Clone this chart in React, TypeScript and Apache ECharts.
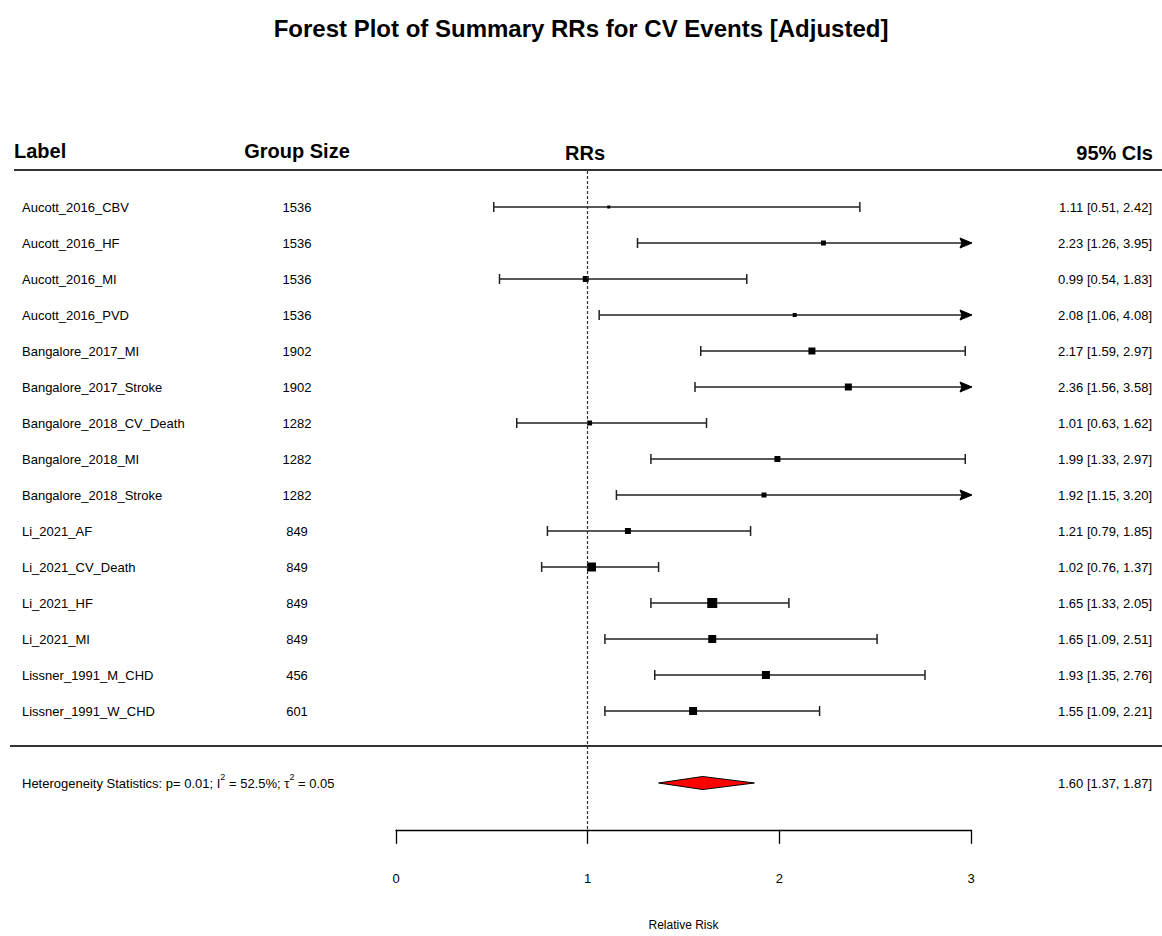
import React, { useEffect, useRef } from "react";
import * as echarts from "echarts";

const studyLabels = [
  "Aucott_2016_CBV",
  "Aucott_2016_HF",
  "Aucott_2016_MI",
  "Aucott_2016_PVD",
  "Bangalore_2017_MI",
  "Bangalore_2017_Stroke",
  "Bangalore_2018_CV_Death",
  "Bangalore_2018_MI",
  "Bangalore_2018_Stroke",
  "Li_2021_AF",
  "Li_2021_CV_Death",
  "Li_2021_HF",
  "Li_2021_MI",
  "Lissner_1991_M_CHD",
  "Lissner_1991_W_CHD",
];
const groupSizes = [1536, 1536, 1536, 1536, 1902, 1902, 1282, 1282, 1282, 849, 849, 849, 849, 456, 601];
const rrEstimates = [1.11, 2.23, 0.99, 2.08, 2.17, 2.36, 1.01, 1.99, 1.92, 1.21, 1.02, 1.65, 1.65, 1.93, 1.55];
const rrLower = [0.51, 1.26, 0.54, 1.06, 1.59, 1.56, 0.63, 1.33, 1.15, 0.79, 0.76, 1.33, 1.09, 1.35, 1.09];
const rrUpper = [2.42, 3.95, 1.83, 4.08, 2.97, 3.58, 1.62, 2.97, 3.2, 1.85, 1.37, 2.05, 2.51, 2.76, 2.21];
// relative study weights (%)
const studyWeights = [1.3, 3.7, 5.3, 2.4, 7.3, 7.3, 3.7, 5.3, 3.7, 5.3, 12.0, 14.9, 9.5, 9.5, 9.5];

const summaryEstimate = 1.6;
const summaryLower = 1.37;
const summaryUpper = 1.87;
const heterogeneity = { p: "0.01", i2: "52.5%", tau2: "0.05" };

const xTicks = [0, 1, 2, 3];
const xMin = 0;
const xMax = 3;

const FONT = "'Liberation Sans', Arial, Helvetica, sans-serif";
const SUMMARY_ROW = studyLabels.length + 1;

function fmt(v: number) {
  return v.toFixed(2);
}
function ciText(e: number, l: number, u: number) {
  return `${fmt(e)} [${fmt(l)}, ${fmt(u)}]`;
}

export default function App() {
  const ref = useRef<HTMLDivElement>(null);

  useEffect(() => {
    if (!ref.current) return;
    const chart = echarts.init(ref.current, undefined, { renderer: "svg" });

    const maxW = Math.max(...studyWeights);
    const rowData = studyLabels.map((_, i) => [
      rrEstimates[i],
      i,
      rrLower[i],
      rrUpper[i],
      studyWeights[i],
    ]);

    const yBase = {
      type: "value" as const,
      min: -1,
      max: 17.3,
      interval: 1,
      inverse: true,
      axisLine: { show: false },
      axisTick: { show: false },
      splitLine: { show: false },
    };

    const isRow = (v: number) => Number.isInteger(v) && v >= 0 && v < studyLabels.length;

    const option: any = {
      animation: false,
      backgroundColor: "#ffffff",
      title: {
        text: "Forest Plot of Summary RRs for CV Events [Adjusted]",
        left: "center",
        top: 11,
        textStyle: { fontFamily: FONT, fontSize: 24, fontWeight: "bold", color: "#000" },
      },
      grid: { left: 396, right: 191, top: 171, bottom: 106.2, containLabel: false },
      xAxis: {
        type: "value",
        min: xMin,
        max: xMax,
        interval: 1,
        position: "bottom",
        axisLine: { show: true, onZero: false, lineStyle: { color: "#000", width: 1.3 } },
        axisTick: { show: true, length: 14, lineStyle: { color: "#000", width: 1.3 } },
        axisLabel: {
          margin: 42,
          fontFamily: FONT,
          fontSize: 13,
          color: "#000",
          formatter: (v: number) => (xTicks.includes(v) ? String(v) : ""),
        },
        splitLine: { show: false },
        name: "Relative Risk",
        nameLocation: "middle",
        nameGap: 89,
        nameTextStyle: { fontFamily: FONT, fontSize: 12, color: "#000" },
      },
      yAxis: [
        {
          ...yBase,
          position: "left",
          axisLabel: {
            align: "left",
            margin: 374,
            fontFamily: FONT,
            fontSize: 13,
            color: "#000",
            formatter: (v: number) => {
              if (isRow(v)) return studyLabels[v];
              if (v === SUMMARY_ROW)
                return `Heterogeneity Statistics: p= ${heterogeneity.p}; I{sup|2} = ${heterogeneity.i2}; \u03c4{sup|2} = ${heterogeneity.tau2}`;
              return "";
            },
            rich: {
              sup: { fontFamily: FONT, fontSize: 9, color: "#000", verticalAlign: "top", lineHeight: 22 },
            },
          },
        },
        {
          ...yBase,
          position: "left",
          axisLabel: {
            align: "center",
            margin: 99,
            fontFamily: FONT,
            fontSize: 13,
            color: "#000",
            padding: [4, 0, 0, 0],
            formatter: (v: number) => (isRow(v) ? String(groupSizes[v]) : ""),
          },
        },
        {
          ...yBase,
          position: "right",
          axisLabel: {
            align: "right",
            margin: 181,
            fontFamily: FONT,
            fontSize: 13,
            color: "#000",
            formatter: (v: number) => {
              if (isRow(v)) return ciText(rrEstimates[v], rrLower[v], rrUpper[v]);
              if (v === SUMMARY_ROW) return ciText(summaryEstimate, summaryLower, summaryUpper);
              return "";
            },
          },
        },
      ],
      graphic: [
        {
          type: "line",
          shape: { x1: 14, y1: 170, x2: 1162, y2: 170 },
          style: { stroke: "#333", lineWidth: 2 },
        },
        {
          type: "line",
          shape: { x1: 10, y1: 746, x2: 1162, y2: 746 },
          style: { stroke: "#333", lineWidth: 2 },
        },
        {
          type: "text",
          x: 14,
          y: 151,
          style: { text: "Label", font: `bold 20px ${FONT}`, fill: "#000", textAlign: "left", textVerticalAlign: "middle" },
        },
        {
          type: "text",
          x: 297,
          y: 151,
          style: { text: "Group Size", font: `bold 20px ${FONT}`, fill: "#000", textAlign: "center", textVerticalAlign: "middle" },
        },
        {
          type: "text",
          x: 585,
          y: 153,
          style: { text: "RRs", font: `bold 20px ${FONT}`, fill: "#000", textAlign: "center", textVerticalAlign: "middle" },
        },
        {
          type: "text",
          x: 1153,
          y: 153,
          style: { text: "95% CIs", font: `bold 20px ${FONT}`, fill: "#000", textAlign: "right", textVerticalAlign: "middle" },
        },
      ],
      series: [
        {
          type: "custom",
          name: "studies",
          xAxisIndex: 0,
          yAxisIndex: 0,
          clip: false,
          encode: { x: [0, 2, 3], y: 1 },
          data: rowData,
          renderItem: (params: any, api: any) => {
            const est = api.value(0);
            const y = api.value(1);
            const lo = api.value(2);
            const hi = api.value(3);
            const w = api.value(4);
            const hiClip = Math.min(hi, xMax);
            const p0 = api.coord([Math.max(lo, xMin), y]);
            const p1 = api.coord([hiClip, y]);
            const pe = api.coord([est, y]);
            const s = Math.max(3, 10 * Math.sqrt(w / maxW));
            const stroke = { stroke: "#222", lineWidth: 1.5 };
            const children: any[] = [
              { type: "line", shape: { x1: p0[0], y1: p0[1], x2: p1[0], y2: p1[1] }, style: stroke },
              { type: "line", shape: { x1: p0[0], y1: p0[1] - 5, x2: p0[0], y2: p0[1] + 5 }, style: stroke },
            ];
            if (hi > xMax) {
              children.push({
                type: "polygon",
                shape: {
                  points: [
                    [p1[0] - 11, p1[1] - 5],
                    [p1[0] - 9, p1[1]],
                    [p1[0] - 11, p1[1] + 5],
                    [p1[0] + 1, p1[1]],
                  ],
                },
                style: { fill: "#000", stroke: "#000", lineWidth: 1 },
              });
            } else {
              children.push({
                type: "line",
                shape: { x1: p1[0], y1: p1[1] - 5, x2: p1[0], y2: p1[1] + 5 },
                style: stroke,
              });
            }
            children.push({
              type: "rect",
              shape: { x: pe[0] - s / 2, y: pe[1] - s / 2, width: s, height: s },
              style: { fill: "#000" },
            });
            return { type: "group", children };
          },
          markLine: {
            silent: true,
            symbol: "none",
            label: { show: false },
            lineStyle: { color: "#333", type: [3, 2], width: 1.2 },
            data: [{ xAxis: 1 }],
          },
          z: 3,
        },
        {
          type: "custom",
          name: "summary",
          xAxisIndex: 0,
          yAxisIndex: 0,
          clip: false,
          encode: { x: [0, 2, 3], y: 1 },
          data: [[summaryEstimate, SUMMARY_ROW, summaryLower, summaryUpper]],
          renderItem: (params: any, api: any) => {
            const y = api.value(1);
            const pe = api.coord([api.value(0), y]);
            const pl = api.coord([api.value(2), y]);
            const pu = api.coord([api.value(3), y]);
            return {
              type: "polygon",
              shape: {
                points: [
                  [pl[0], pl[1]],
                  [pe[0], pe[1] - 6.5],
                  [pu[0], pu[1]],
                  [pe[0], pe[1] + 6.5],
                ],
              },
              style: { fill: "#ff0000", stroke: "#000", lineWidth: 1 },
            };
          },
          z: 4,
        },
      ],
    };

    chart.setOption(option);
    return () => chart.dispose();
  }, []);

  return (
    <div
      ref={ref}
      style={{ position: "absolute", left: 0, top: 0, width: 1162, height: 936, background: "#fff" }}
    />
  );
}
